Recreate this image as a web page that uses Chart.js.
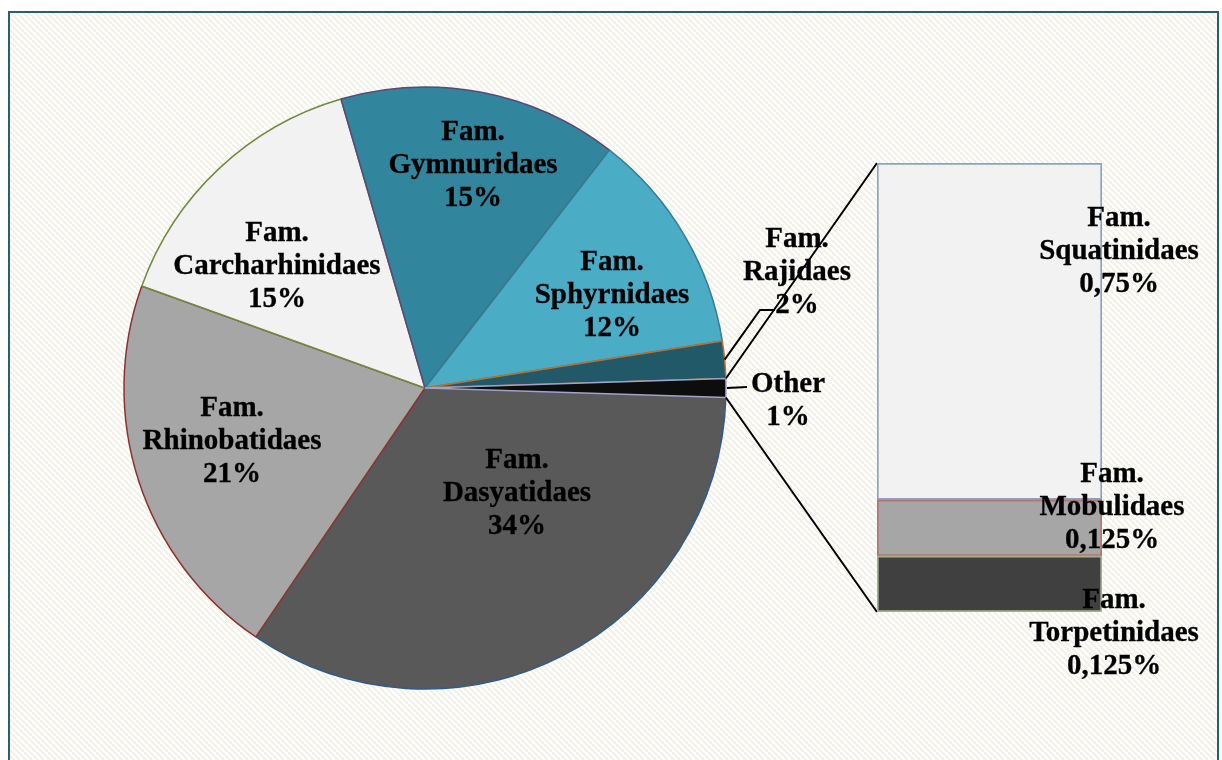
<!DOCTYPE html>
<html>
<head>
<meta charset="utf-8">
<script src="https://cdn.jsdelivr.net/npm/chart.js@4.4.1/dist/chart.umd.min.js"></script>
<style>
  html, body { margin: 0; padding: 0; background: #fff; }
  body { width: 1222px; height: 760px; position: relative; overflow: hidden; }
  #frame {
    position: absolute; left: 8px; top: 11px; width: 1211px; height: 800px;
    box-sizing: border-box;
    border: 2px solid #2c5f6e; border-bottom: none;
    background-color: #fff;
    background-image: linear-gradient(45deg, #f4f2e2 25%, #ffffff 25%, #ffffff 50%, #f4f2e2 50%, #f4f2e2 75%, #ffffff 75%);
    background-size: 6px 6px;
  }
  #pieChart { position: absolute; left: 0; top: 0; }
  #barChart { position: absolute; left: 867px; top: 150px; }
</style>
</head>
<body>
<div id="frame"></div>
<canvas id="pieChart" width="1222" height="760"></canvas>
<canvas id="barChart" width="355" height="560"></canvas>
<script>
// main pie: families, share in %
const pieNames = ['Fam. Dasyatidaes', 'Fam. Rhinobatidaes', 'Fam. Carcharhinidaes', 'Fam. Gymnuridaes', 'Fam. Sphyrnidaes', 'Fam. Rajidaes', 'Other'];
const pieValues = [34, 21, 15, 15, 12, 2, 1];
const pieColors = ['#595959', '#a6a6a6', '#f2f2f2', '#31859c', '#4bacc6', '#215968', '#0d0d0d'];
const pieBorders = ['#2f5b8c', '#8c3230', '#71893f', '#5c4776', '#357d91', '#c0702c', '#a3a3c8'];

// "Other" split into the stacked bar
const barNames = ['Fam. Squatinidaes', 'Fam. Mobulidaes', 'Fam. Torpetinidaes'];
const barValues = [0.75, 0.125, 0.125];
const barColors = ['#f2f2f2', '#a6a6a6', '#404040'];
const barBorders = ['#8fa1c2', '#b87472', '#a3b48c'];

// label block centres, px from pie centre / from bar segment
const pieLabelSpots = [[92, 103], [-193, 51], [-148, -124], [48, -225], [187, -95], [372, -118], [363, 10]];
const barLabelSpots = [[17, -83], [10, -23], [12, 47]];

const FONT = 'bold 29px "Liberation Serif", "Times New Roman", serif';
const LINE_H = 33;

function splitName(name) {
  return name.startsWith('Fam. ') ? ['Fam.', name.slice(5)] : [name];
}

function drawBlock(ctx, lines, x, y) {
  ctx.save();
  ctx.font = FONT;
  ctx.fillStyle = '#000';
  ctx.strokeStyle = '#000';
  ctx.lineWidth = 0.3;
  ctx.textAlign = 'center';
  ctx.textBaseline = 'middle';
  lines.forEach((t, i) => {
    const ty = y + 3 + (i - (lines.length - 1) / 2) * LINE_H;
    ctx.fillText(t, x, ty);
    ctx.strokeText(t, x, ty);
  });
  ctx.restore();
}

const barPos = { left: 867, top: 150 };

const barLabelPlugin = {
  id: 'barLabels',
  afterDatasetsDraw(chart) {
    const ctx = chart.ctx;
    chart.data.datasets.forEach((ds, di) => {
      const i = ds.srcIndex;
      const el = chart.getDatasetMeta(di).data[0];
      const right = el.x + el.width / 2;
      const mid = (el.y + el.base) / 2;
      const txt = String(barValues[i]).replace('.', ',') + '%';
      drawBlock(ctx, [...splitName(barNames[i]), txt], right + barLabelSpots[i][0], mid + barLabelSpots[i][1]);
    });
  }
};

// bottom segment first so the big one sits on top
const barDatasets = barValues.map((v, i) => ({
  label: barNames[i],
  srcIndex: i,
  data: [v],
  backgroundColor: barColors[i],
  borderColor: barBorders[i],
  borderWidth: 2,
  borderSkipped: false,
  categoryPercentage: 1,
  barPercentage: 1
})).reverse();

const barChart = new Chart(document.getElementById('barChart'), {
  type: 'bar',
  data: { labels: [''], datasets: barDatasets },
  options: {
    responsive: false,
    animation: false,
    layout: { padding: { left: 10, right: 120, top: 13, bottom: 98 } },
    plugins: { legend: { display: false }, tooltip: { enabled: false } },
    scales: {
      x: { display: false, stacked: true },
      y: { display: false, stacked: true, min: 0, max: barValues.reduce((a, b) => a + b, 0) }
    }
  },
  plugins: [barLabelPlugin]
});

const pieExtras = {
  id: 'pieExtras',
  afterDatasetsDraw(chart) {
    const ctx = chart.ctx;
    const arcs = chart.getDatasetMeta(0).data;
    const last = arcs.length - 1;
    const other = arcs[last];
    const cx = other.x, cy = other.y, r = other.outerRadius;

    // connectors from the "Other" slice to the bar
    const bMeta = barChart.getDatasetMeta(barChart.data.datasets.length - 1).data[0];
    const bBottom = barChart.getDatasetMeta(0).data[0];
    const topCorner = [barPos.left + bMeta.x - bMeta.width / 2, barPos.top + bMeta.y];
    const botCorner = [barPos.left + bBottom.x - bBottom.width / 2, barPos.top + bBottom.base];
    ctx.save();
    ctx.strokeStyle = '#000';
    ctx.lineWidth = 2;
    ctx.beginPath();
    ctx.moveTo(cx + r * Math.cos(other.startAngle), cy + r * Math.sin(other.startAngle));
    ctx.lineTo(topCorner[0], topCorner[1]);
    ctx.moveTo(cx + r * Math.cos(other.endAngle), cy + r * Math.sin(other.endAngle));
    ctx.lineTo(botCorner[0], botCorner[1]);

    // leader lines for the two thin slices
    const raj = arcs[last - 1];
    const rajMid = (raj.startAngle + raj.endAngle) / 2;
    const rajLab = [cx + pieLabelSpots[last - 1][0], cy + pieLabelSpots[last - 1][1]];
    ctx.moveTo(cx + r * Math.cos(rajMid), cy + r * Math.sin(rajMid));
    ctx.lineTo(rajLab[0] - 37, rajLab[1] + 40);
    ctx.lineTo(rajLab[0] - 22, rajLab[1] + 40);

    const othMid = (other.startAngle + other.endAngle) / 2;
    const othLab = [cx + pieLabelSpots[last][0], cy + pieLabelSpots[last][1]];
    ctx.moveTo(cx + r * Math.cos(othMid) + 1, cy + r * Math.sin(othMid));
    ctx.lineTo(othLab[0] - 41, othLab[1] - 11);
    ctx.stroke();
    ctx.restore();

    arcs.forEach((a, i) => {
      drawBlock(ctx, [...splitName(pieNames[i]), pieValues[i] + '%'],
        cx + pieLabelSpots[i][0], cy + pieLabelSpots[i][1]);
    });
  }
};

const total = pieValues.reduce((a, b) => a + b, 0);
const otherHalf = pieValues[pieValues.length - 1] / total * 180;

new Chart(document.getElementById('pieChart'), {
  type: 'pie',
  data: {
    labels: pieNames,
    datasets: [{
      data: pieValues,
      backgroundColor: pieColors,
      borderColor: pieBorders,
      borderWidth: 1.5
    }]
  },
  options: {
    responsive: false,
    animation: false,
    rotation: 90 + otherHalf,
    radius: 301,
    layout: { padding: { left: 124, right: 496, top: 87, bottom: 71 } },
    plugins: { legend: { display: false }, tooltip: { enabled: false } }
  },
  plugins: [pieExtras]
});
</script>
</body>
</html>
